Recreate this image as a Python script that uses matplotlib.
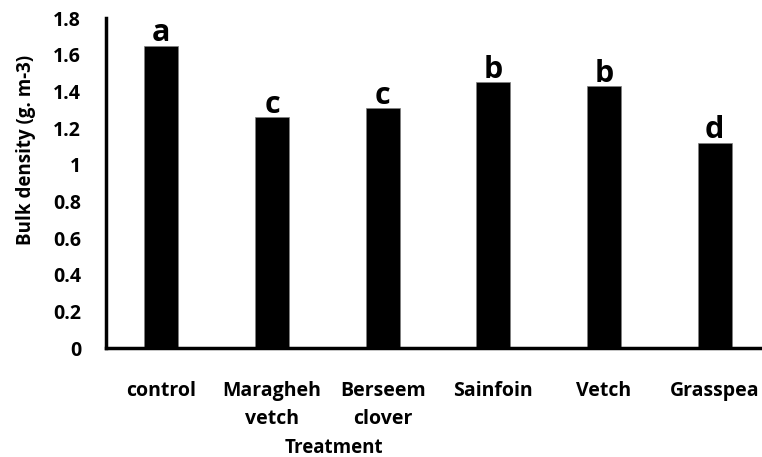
import matplotlib.pyplot as plt
import numpy as np

treatments = ['control', 'Maragheh\nvetch', 'Berseem\nclover', 'Sainfoin', 'Vetch', 'Grasspea']
bulk_density = [1.65, 1.26, 1.31, 1.45, 1.43, 1.12]
groups = ['a', 'c', 'c', 'b', 'b', 'd']
y_ticks = [0, 0.2, 0.4, 0.6, 0.8, 1, 1.2, 1.4, 1.6, 1.8]
y_tick_labels = ['0', '0.2', '0.4', '0.6', '0.8', '1', '1.2', '1.4', '1.6', '1.8']

plt.rcParams['font.family'] = ['Open Sans', 'DejaVu Sans']
plt.rcParams['font.weight'] = 'bold'

fig = plt.figure(figsize=(7.62, 4.57), dpi=100)
# plot area runs a little past the right edge of the picture, as in the source
ax = fig.add_axes([106 / 762, (457 - 348) / 457, 664 / 762, 330 / 457])

x = np.arange(len(treatments))
bars = ax.bar(x, bulk_density, width=0.31, color='black', edgecolor='#808080', linewidth=0.5)

for xi, val, g in zip(x, bulk_density, groups):
    ax.annotate(g, (xi, val), xytext=(0, -2), textcoords='offset points',
                ha='center', va='bottom', fontsize=22, fontweight='bold')

ax.set_xlim(-0.5, len(treatments) - 0.5)
ax.set_ylim(0, 1.8)
ax.set_yticks(y_ticks)
ax.set_yticklabels(y_tick_labels)
ax.set_xticks(x)
ax.set_xticklabels(treatments, linespacing=1.5)

ax.tick_params(axis='y', length=0, pad=18, labelsize=14)
ax.tick_params(axis='x', length=0, pad=24, labelsize=14)
for lbl in ax.get_xticklabels() + ax.get_yticklabels():
    lbl.set_fontweight('bold')

ax.spines['top'].set_visible(False)
ax.spines['right'].set_visible(False)
ax.spines['left'].set_linewidth(2.5)
ax.spines['bottom'].set_linewidth(2.5)

ax.set_ylabel('Bulk density (g. m-3)', fontsize=13.5, fontweight='bold', va='center')
ax.yaxis.set_label_coords(-0.12, 0.6)
ax.set_xlabel('Treatment', fontsize=13.5, fontweight='bold', va='center')
ax.xaxis.set_label_coords(0.343, -0.302)

fig.savefig('out.png', dpi=100)
